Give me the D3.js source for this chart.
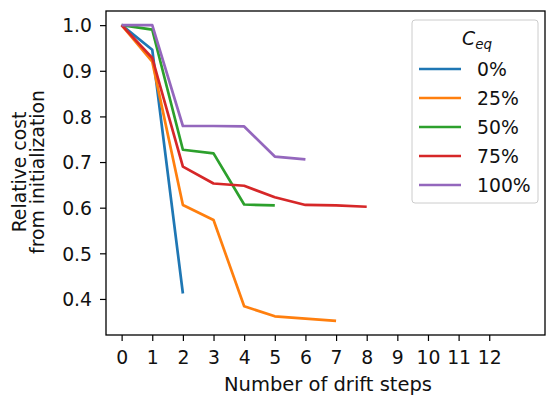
<!DOCTYPE html>
<html><head><meta charset="utf-8">
<script src="https://cdn.jsdelivr.net/npm/d3@7"></script>
<style>body{margin:0;background:#fff}svg text{font-family:"DejaVu Sans",sans-serif}</style>
</head><body><svg id="c" width="546" height="396"></svg>
<script>
const steps = [0,1,2,3,4,5,6,7,8];
const seriesNames = ["0%","25%","50%","75%","100%"];
const s0 = [1.0,0.946,0.412];
const s25 = [1.0,0.920,0.606,0.573,0.384,0.362,0.357,0.352];
const s50 = [1.0,0.990,0.727,0.719,0.607,0.605];
const s75 = [1.0,0.928,0.690,0.653,0.648,0.623,0.606,0.605,0.602];
const s100 = [1.0,1.0,0.779,0.779,0.778,0.712,0.706];
const xTicks = [0,1,2,3,4,5,6,7,8,9,10,11,12];
const yTicks = [0.4,0.5,0.6,0.7,0.8,0.9,1.0];
const colors = ["#1f77b4","#ff7f0e","#2ca02c","#d62728","#9467bd"];
const allSeries = [s0,s25,s50,s75,s100];

const FS = 18.8;
const svg = d3.select("#c");
const L=106,R=545,T=11,B=335;
const x = d3.scaleLinear().domain([-0.51,13.82]).range([L,R]);
const y = d3.scaleLinear().domain([0.321,1.031]).range([B,T]);

const line = d3.line().x((d,i)=>x(steps[i])).y(d=>y(d));
allSeries.forEach((s,k)=>{
  svg.append("path").datum(s).attr("d",line).attr("fill","none")
    .attr("stroke",colors[k]).attr("stroke-width",2.7).attr("stroke-linejoin","round").attr("stroke-linecap","butt");
});

const xa = svg.append("g").attr("transform",`translate(0,${B})`)
  .call(d3.axisBottom(x).tickValues(xTicks).tickFormat(d3.format("d")).tickSize(6).tickPadding(9));
const ya = svg.append("g").attr("transform",`translate(${L},0)`)
  .call(d3.axisLeft(y).tickValues(yTicks).tickFormat(d3.format(".1f")).tickSize(6).tickPadding(8));
[xa,ya].forEach(a=>{a.select(".domain").remove();a.selectAll("text").attr("font-size",FS).attr("fill","#111");a.selectAll("line").attr("stroke","#000").attr("stroke-width",1.2);});
xa.selectAll("text").attr("y",29).attr("dy",null);
ya.selectAll("text").attr("dy","0.36em");

svg.append("rect").attr("x",L).attr("y",T).attr("width",R-L).attr("height",B-T)
  .attr("fill","none").attr("stroke","#000").attr("stroke-width",1.3);

svg.append("text").attr("x",328).attr("y",391).attr("text-anchor","middle")
  .attr("font-size",19.5).attr("fill","#111").text("Number of drift steps");
const yl = svg.append("text").attr("transform","translate(0,172) rotate(-90)").attr("text-anchor","middle")
  .attr("font-size",FS).attr("fill","#111");
yl.append("tspan").attr("x",0).attr("y",26).text("Relative cost");
yl.append("tspan").attr("x",0).attr("y",44).text("from initialization");

// legend
const lg = svg.append("g");
lg.append("rect").attr("x",412).attr("y",20).attr("width",126).attr("height",183).attr("rx",3)
  .attr("fill","#fff").attr("fill-opacity",0.8).attr("stroke","#ccc").attr("stroke-width",1);
const tt = lg.append("text").attr("x",462).attr("y",45).attr("font-size",FS).attr("font-style","italic").attr("fill","#111");
tt.append("tspan").text("C");
tt.append("tspan").attr("font-size",13.5).attr("dy",4).text("eq");
seriesNames.forEach((n,i)=>{
  const yy = 69 + i*29;
  lg.append("line").attr("x1",419).attr("x2",461).attr("y1",yy).attr("y2",yy).attr("stroke",colors[i]).attr("stroke-width",2.7);
  lg.append("text").attr("x",477).attr("y",yy).attr("dy","0.36em").attr("font-size",FS).attr("fill","#111").text(n);
});
</script></body></html>
